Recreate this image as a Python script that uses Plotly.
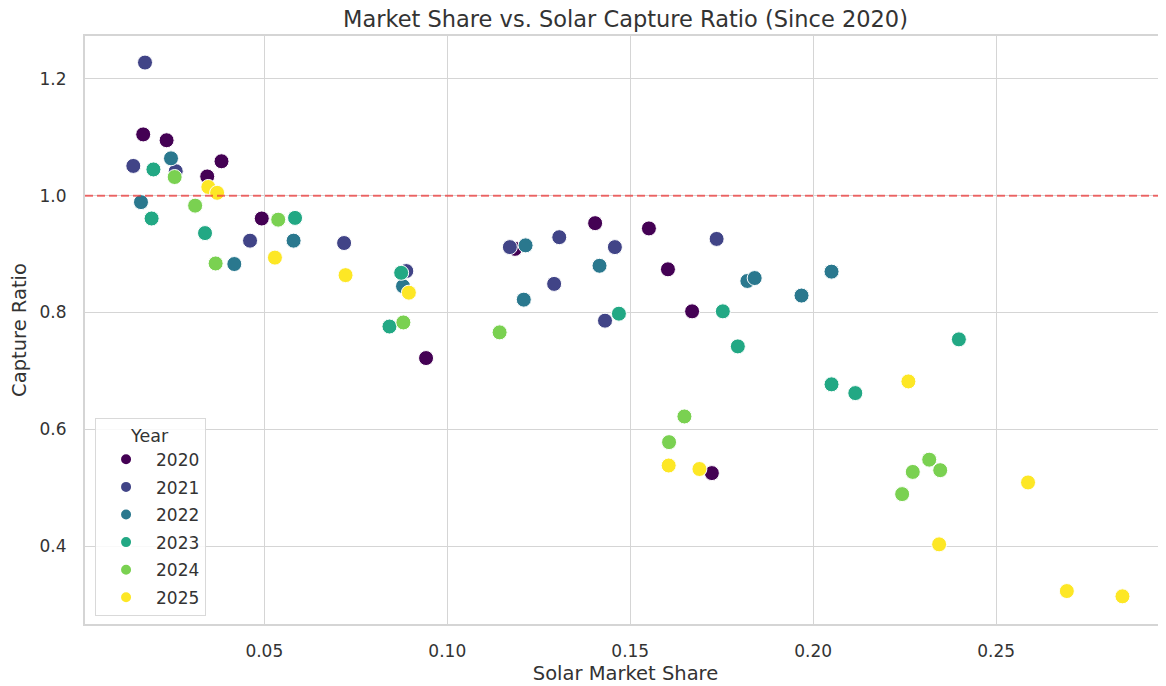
import plotly.graph_objects as go

# values, one pair of lists per year
years = ["2020", "2021", "2022", "2023", "2024", "2025"]
colors = ["#440154", "#414487", "#2a788e", "#22a884", "#7ad151", "#fde725"]

share_2020 = [0.0169, 0.0233, 0.0383, 0.0344, 0.0493, 0.0942, 0.1185, 0.1404, 0.1551, 0.1603, 0.1669, 0.1723]
ratio_2020 = [1.105, 1.095, 1.059, 1.033, 0.961, 0.722, 0.909, 0.953, 0.944, 0.874, 0.802, 0.525]

share_2021 = [0.0174, 0.0142, 0.0258, 0.0461, 0.0718, 0.0888, 0.1171, 0.1306, 0.1458, 0.1292, 0.1431, 0.1736]
ratio_2021 = [1.228, 1.051, 1.042, 0.923, 0.919, 0.871, 0.912, 0.929, 0.912, 0.849, 0.786, 0.926]

share_2022 = [0.0245, 0.0163, 0.0418, 0.0580, 0.0879, 0.1214, 0.1416, 0.1209, 0.1820, 0.1840, 0.1968, 0.2050]
ratio_2022 = [1.064, 0.989, 0.883, 0.923, 0.845, 0.915, 0.880, 0.822, 0.854, 0.859, 0.829, 0.870]

share_2023 = [0.0197, 0.0192, 0.0338, 0.0584, 0.0874, 0.0842, 0.1469, 0.1753, 0.1794, 0.2050, 0.2115, 0.2398]
ratio_2023 = [1.045, 0.961, 0.936, 0.962, 0.868, 0.776, 0.798, 0.802, 0.742, 0.677, 0.662, 0.754]

share_2024 = [0.0255, 0.0311, 0.0367, 0.0538, 0.0880, 0.1143, 0.1648, 0.1606, 0.2317, 0.2272, 0.2347, 0.2243]
ratio_2024 = [1.032, 0.983, 0.884, 0.959, 0.783, 0.766, 0.622, 0.578, 0.548, 0.527, 0.530, 0.489]

share_2025 = [0.0347, 0.0371, 0.0529, 0.0722, 0.0895, 0.1605, 0.1689, 0.2260, 0.2587, 0.2344, 0.2693, 0.2845]
ratio_2025 = [1.015, 1.005, 0.894, 0.864, 0.834, 0.538, 0.532, 0.682, 0.509, 0.403, 0.323, 0.314]

shares = [share_2020, share_2021, share_2022, share_2023, share_2024, share_2025]
ratios = [ratio_2020, ratio_2021, ratio_2022, ratio_2023, ratio_2024, ratio_2025]

FONT = "DejaVu Sans"
TEXT = "#333333"
GRID = "#d5d5d5"

# the page body keeps its default 8px margin, so the figure is 8px smaller
W, H = 1158, 678

fig = go.Figure()
for yr, col, xs, ys in zip(years, colors, shares, ratios):
    fig.add_trace(go.Scatter(
        x=xs, y=ys, mode="markers", name=yr, legendgroup=yr,
        marker=dict(size=15, color=col, line=dict(color="white", width=1)),
    ))

# parity line at capture ratio 1.0
fig.add_hline(y=1.0, line=dict(color="rgba(238,55,55,0.72)", width=2, dash="8px,4px"))

fig.update_layout(
    width=W, height=H,
    paper_bgcolor="white", plot_bgcolor="white",
    font=dict(family=FONT, color=TEXT, size=17),
    margin=dict(l=77, r=0, t=28, b=62),
    title=dict(text="Market Share vs. Solar Capture Ratio (Since 2020)",
               x=0.5, xref="paper", xanchor="center",
               y=1 - 11 / H, yanchor="middle",
               font=dict(size=22.5, color=TEXT, family=FONT)),
    legend=dict(
        title=dict(text="Year", side="top center", font=dict(size=17.5)),
        font=dict(size=17),
        x=0.0093, y=0.0136, xanchor="left", yanchor="bottom",
        bgcolor="rgba(255,255,255,0.85)", bordercolor="#d9d9d9", borderwidth=1,
        itemsizing="constant", itemwidth=50, tracegroupgap=2.5,
    ),
    showlegend=True,
)

fig.update_xaxes(
    range=[0.001, 0.2964], tickvals=[0.05, 0.10, 0.15, 0.20, 0.25],
    ticktext=["0.05", "0.10", "0.15", "0.20", "0.25"],
    showgrid=True, gridcolor=GRID, gridwidth=1.3, zeroline=False,
    showline=True, linecolor=GRID, linewidth=2, mirror=True,
    ticks="outside", ticklen=11, tickcolor="rgba(0,0,0,0)",
    automargin=False,
    title=dict(text="Solar Market Share", font=dict(size=19.5), standoff=6),
)
fig.update_yaxes(
    range=[0.2666, 1.2735], tickvals=[0.4, 0.6, 0.8, 1.0, 1.2],
    ticktext=["0.4", "0.6", "0.8", "1.0", "1.2"],
    showgrid=True, gridcolor=GRID, gridwidth=1.3, zeroline=False,
    showline=True, linecolor=GRID, linewidth=2, mirror=False,
    ticks="outside", ticklen=13, tickcolor="rgba(0,0,0,0)",
    automargin=False,
    title=dict(text="Capture Ratio", font=dict(size=19.5), standoff=12),
)

fig.write_html("out.html")
